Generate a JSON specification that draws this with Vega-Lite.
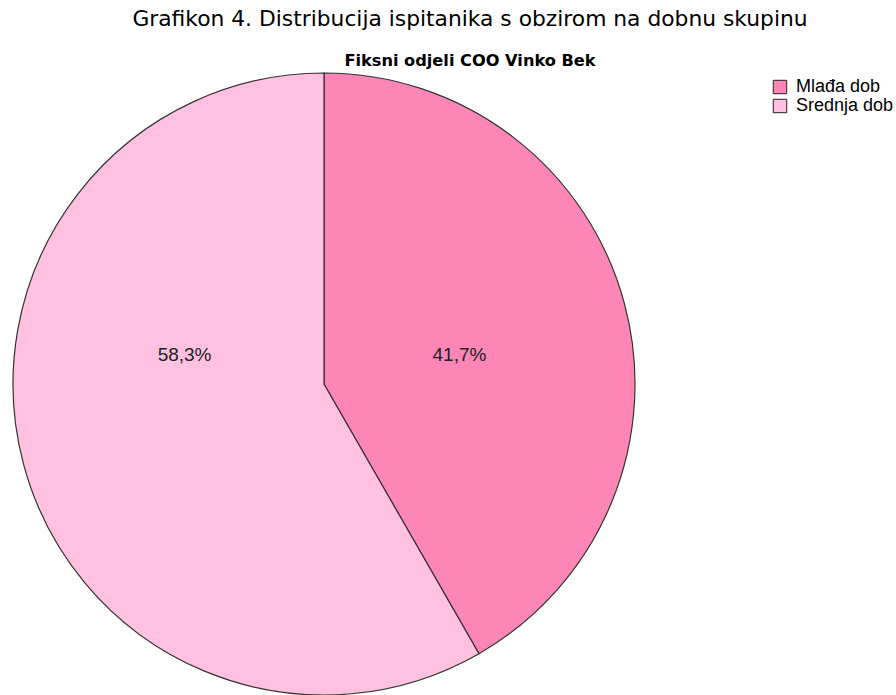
{
  "$schema": "https://vega.github.io/schema/vega-lite/v6.json",
  "autosize": {"type": "none"},
  "width": 622,
  "height": 622,
  "padding": {"left": 13, "top": 73, "right": 261, "bottom": 0},
  "background": "white",
  "title": {
    "text": "Grafikon 4. Distribucija ispitanika s obzirom na dobnu skupinu",
    "subtitle": "Fiksni odjeli COO Vinko Bek",
    "anchor": "middle",
    "dx": 146,
    "font": "DejaVu Sans",
    "fontSize": 21.8,
    "fontWeight": "normal",
    "color": "#000",
    "subtitleFont": "DejaVu Sans",
    "subtitleFontSize": 16.2,
    "subtitleFontWeight": "bold",
    "subtitleColor": "#000",
    "subtitlePadding": 23,
    "offset": 1
  },
  "data": {
    "values": [
      {"dob": "Mlađa dob", "postotak": 41.7, "oznaka": "41,7%"},
      {"dob": "Srednja dob", "postotak": 58.3, "oznaka": "58,3%"}
    ]
  },
  "encoding": {
    "theta": {"field": "postotak", "type": "quantitative", "stack": true},
    "color": {
      "field": "dob",
      "type": "nominal",
      "scale": {"domain": ["Mlađa dob", "Srednja dob"], "range": ["#FD86B6", "#FFC1DF"]},
      "legend": {
        "orient": "none",
        "legendX": 758,
        "legendY": 5,
        "title": null,
        "symbolType": "square",
        "symbolSize": 180,
        "symbolStrokeColor": "#222",
        "symbolStrokeWidth": 1,
        "symbolOpacity": 1,
        "labelFont": "Liberation Sans",
        "labelFontSize": 18,
        "labelColor": "#000",
        "labelOffset": 7,
        "rowPadding": 1
      }
    }
  },
  "layer": [
    {"mark": {"type": "arc", "stroke": "#333", "strokeWidth": 1.2}},
    {
      "mark": {"type": "text", "radius": 135, "dx": 5, "dy": 6, "font": "Liberation Sans", "fontSize": 19, "align": "center", "baseline": "middle"},
      "encoding": {
        "color": {"value": "#222"},
        "detail": {"field": "dob"},
        "text": {"condition": {"test": "datum.dob === 'Mlađa dob'", "field": "oznaka"}, "value": ""}
      }
    },
    {
      "mark": {"type": "text", "radius": 135, "dx": -9, "dy": -64, "font": "Liberation Sans", "fontSize": 19, "align": "center", "baseline": "middle"},
      "encoding": {
        "color": {"value": "#222"},
        "detail": {"field": "dob"},
        "text": {"condition": {"test": "datum.dob === 'Srednja dob'", "field": "oznaka"}, "value": ""}
      }
    }
  ]
}
